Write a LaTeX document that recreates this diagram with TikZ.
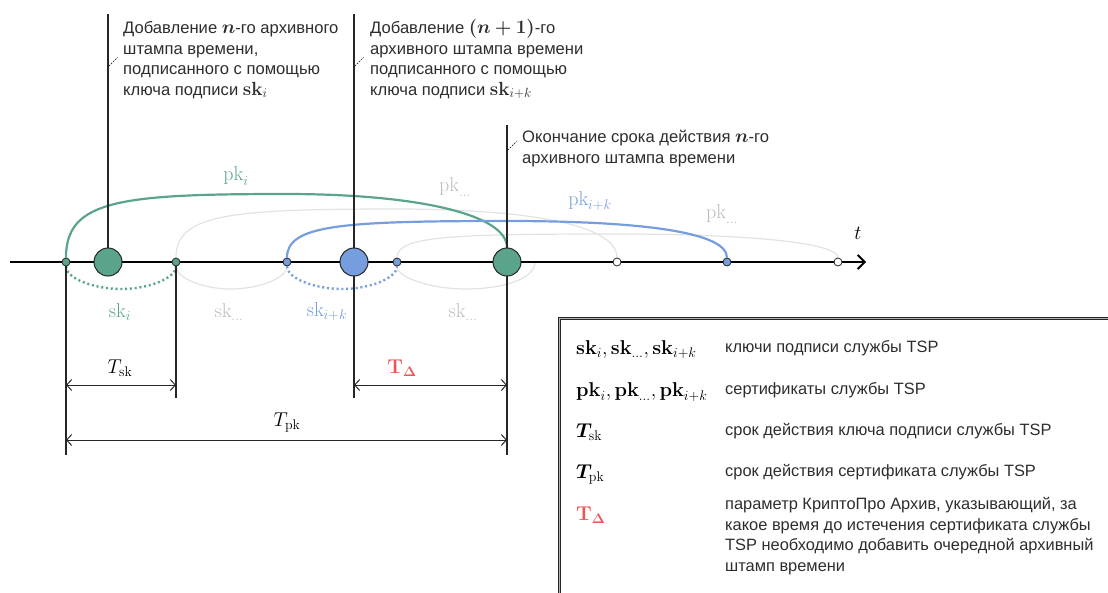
\RequirePackage{fix-cm}
\documentclass[tikz,border=0pt]{standalone}
\usepackage[no-math]{fontspec}
\setmainfont{Liberation Sans}
\usepackage{amsmath}
\usepackage{bm}
\usetikzlibrary{arrows.meta,backgrounds}
\definecolor{grn}{RGB}{91,164,140}
\definecolor{blu}{RGB}{118,158,222}
\definecolor{lgr}{RGB}{226,226,226}
\definecolor{tgr}{RGB}{188,188,188}
\definecolor{redd}{RGB}{232,88,88}
\definecolor{ink}{RGB}{45,45,45}
\newcommand{\bigmath}[1]{{\fontsize{19}{20}\selectfont$#1$}}
\begin{document}
\begin{tikzpicture}[x=1pt,y=-1pt,
 axisline/.style={line width=1.8pt, draw=black},
 vline/.style={line width=1.3pt, draw=black!85},
 bigdot/.style={circle, draw=black!85, line width=1pt, minimum size=28pt, inner sep=0pt},
 smalldot/.style={circle, draw=black!85, line width=0.8pt, minimum size=8pt, inner sep=0pt},
 pkarc/.style={line width=2.2pt},
 lgarc/.style={line width=1.2pt, draw=lgr},
 skdot/.style={line width=2.4pt, dash pattern=on 2pt off 2.8pt},
 lead/.style={dash pattern=on 1.6pt off 1.4pt, line width=0.6pt, draw=black},
 dimarrow/.style={{Straight Barb[length=5pt,width=11pt]}-{Straight Barb[length=5pt,width=11pt]}, line width=1pt, draw=black!85},
 txt/.style={font=\fontsize{16.6}{20.5}\selectfont, text=ink, align=left, anchor=base west, inner sep=0pt},
 ltxt/.style={font=\fontsize{16.4}{20.5}\selectfont, text=ink, align=left, anchor=base west, inner sep=0pt},
 mlab/.style={font=\fontsize{20}{22}\selectfont, inner sep=0pt},
 legbox/.style={draw=black!85, line width=0.9pt, double=gray!60, double distance=1.8pt, anchor=north west, minimum width=620pt, minimum height=320pt, inner sep=0pt},
]
\clip (0,0) rectangle (1108,592);

% dots on the time axis
\node[smalldot, fill=grn] (d1) at (66,262) {};
\node[bigdot, fill=grn] (c1) at (108,262) {};
\node[smalldot, fill=grn] (d2) at (176,262) {};
\node[smalldot, fill=blu] (d3) at (287,262) {};
\node[bigdot, fill=blu] (c2) at (354,262) {};
\node[smalldot, fill=blu] (d4) at (397,262) {};
\node[bigdot, fill=grn] (c3) at (507,262) {};
\node[smalldot, fill=white] (d5) at (617,262) {};
\node[smalldot, fill=blu] (d6) at (727,262) {};
\node[smalldot, fill=white] (d7) at (838,262) {};

\coordinate (axstart) at (10,262);
\coordinate (axend) at (866,262);
\coordinate (top1) at (108,14);
\coordinate (top2) at (354,14);
\coordinate (bot2) at (354,398);
\coordinate (top3) at (507,125);
\coordinate (bot3) at (507,455);
\coordinate (bot0) at (66,455);
\coordinate (bot1) at (176,398);
\coordinate (e4) at (535,262);

\begin{pgfonlayer}{background}
% light grey arcs
\draw[lgarc] (d2) .. controls (176,214) and (230,209) .. (396,209) .. controls (530,209) and (617,225) .. (d5);
\draw[lgarc] (d4) .. controls (397,236) and (451,234) .. (617,234) .. controls (751,234) and (838,243) .. (d7);
\draw[lgarc] (d2) .. controls +(0,16) and +(-28,0) .. (231,289) .. controls +(28,0) and +(0,16) .. (d3);
\draw[lgarc] (d4) .. controls +(0,16) and +(-34,0) .. (466,289) .. controls +(34,0) and +(0,18) .. (e4);
% coloured arcs
\draw[pkarc, grn] (d1) .. controls (66,200) and (120,194) .. (286,194) .. controls (420,194) and (507,215) .. (c3);
\draw[pkarc, blu] (d3) .. controls (287,225) and (341,221) .. (507,221) .. controls (641,221) and (727,232) .. (d6);
\draw[skdot, grn] (d1) .. controls +(0,16) and +(-28,0) .. (121,289) .. controls +(28,0) and +(0,16) .. (d2);
\draw[skdot, blu] (d3) .. controls +(0,16) and +(-28,0) .. (342,289) .. controls +(28,0) and +(0,16) .. (d4);
% axis and vertical lines
\draw[axisline, -{Straight Barb[length=7pt,width=14pt]}] (axstart) -- (axend);
\draw[vline] (top1) -- (c1);
\draw[vline] (top2) -- (bot2);
\draw[vline] (top3) -- (bot3);
\draw[vline] (d1) -- (bot0);
\draw[vline] (d2) -- (bot1);
\end{pgfonlayer}

% leaders
\coordinate (l1a) at (109,66); \coordinate (l1b) at (118,57);
\coordinate (l2a) at (355,66); \coordinate (l2b) at (364,57);
\coordinate (l3a) at (508,150); \coordinate (l3b) at (517,141);
\draw[lead] (l1a) -- (l1b);
\draw[lead] (l2a) -- (l2b);
\draw[lead] (l3a) -- (l3b);

% annotation texts (anchored at the baseline of their last line)
\node[txt] (n1) at (123,95) {Добавление \bigmath{\bm{n}}-го архивного\\штампа времени,\\подписанного с помощью\\ключа подписи \bigmath{\mathbf{sk}_i}};
\node[txt] (n2) at (370,95) {Добавление \bigmath{\bm{(n+1)}}-го\\архивного штампа времени\\подписанного с помощью\\ключа подписи \bigmath{\mathbf{sk}_{i+k}}};
\node[txt] (n3) at (522,163) {Окончание срока действия \bigmath{\bm{n}}-го\\архивного штампа времени};

% arc labels
\node[mlab, text=grn] (pki) at (236,176) {$\mathrm{pk}_i$};
\node[mlab, text=tgr] (pkd1) at (455,187) {$\mathrm{pk}_{\ldots}$};
\node[mlab, text=blu] (pkik) at (590,201) {$\mathrm{pk}_{i+k}$};
\node[mlab, text=tgr] (pkd2) at (722,214) {$\mathrm{pk}_{\ldots}$};
\node[mlab] (tl) at (858,233) {$t$};
\node[mlab, text=grn] (ski) at (120,312) {$\mathrm{sk}_i$};
\node[mlab, text=tgr] (skd1) at (229,312) {$\mathrm{sk}_{\ldots}$};
\node[mlab, text=blu] (skik) at (327,312) {$\mathrm{sk}_{i+k}$};
\node[mlab, text=tgr] (skd2) at (463,312) {$\mathrm{sk}_{\ldots}$};

% dimension arrows
\coordinate (a1) at (66,385); \coordinate (a2) at (176,385);
\coordinate (a3) at (354,385); \coordinate (a4) at (507,385);
\coordinate (a5) at (66,440); \coordinate (a6) at (507,440);
\draw[dimarrow] (a1) -- (a2);
\draw[dimarrow] (a3) -- (a4);
\draw[dimarrow] (a5) -- (a6);
\node[mlab] (tsk) at (120,368) {$T_{\mathrm{sk}}$};
\node[mlab, text=redd] (tdl) at (402,368) {$\mathbf{T}_{\bm{\Delta}}$};
\node[mlab] (tpk) at (287,423) {$T_{\mathrm{pk}}$};

% legend
\node[legbox] (leg) at (559,318) {};
\node[mlab, anchor=base west] (r1a) at (576,354) {$\mathbf{sk}_i, \mathbf{sk}_{\ldots}, \mathbf{sk}_{i+k}$};
\node[ltxt] (r1b) at (725,352) {ключи подписи службы TSP};
\node[mlab, anchor=base west] (r2a) at (576,396) {$\mathbf{pk}_i, \mathbf{pk}_{\ldots}, \mathbf{pk}_{i+k}$};
\node[ltxt] (r2b) at (725,394) {сертификаты службы TSP};
\node[mlab, anchor=base west] (r3a) at (576,437) {$\bm{T}_{\mathrm{sk}}$};
\node[ltxt] (r3b) at (725,435) {срок действия ключа подписи службы TSP};
\node[mlab, anchor=base west] (r4a) at (576,478) {$\bm{T}_{\mathrm{pk}}$};
\node[ltxt] (r4b) at (725,476) {срок действия сертификата службы TSP};
\node[mlab, anchor=base west, text=redd] (r5a) at (576,520) {$\mathbf{T}_{\bm{\Delta}}$};
\node[ltxt] (r5b) at (725,571) {параметр КриптоПро Архив, указывающий, за\\какое время до истечения сертификата службы\\TSP необходимо добавить очередной архивный\\штамп времени};
\end{tikzpicture}
\end{document}
